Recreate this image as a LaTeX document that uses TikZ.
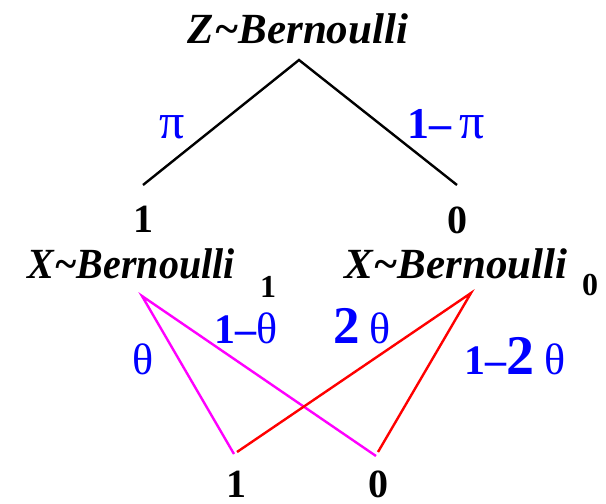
\documentclass[tikz,border=0pt]{standalone}
\usepackage{fontspec}
\setmainfont{Liberation Serif}
\definecolor{pmag}{RGB}{255,0,255}
\definecolor{pblue}{RGB}{0,0,255}
\newcommand{\gk}[1]{{\mdseries #1}}
\begin{document}
\begin{tikzpicture}[x=1pt,y=-1pt,
  dist/.style={font=\fontsize{43}{45}\selectfont\bfseries\itshape, inner sep=0pt, anchor=base},
  val/.style={font=\fontsize{40}{42}\selectfont\bfseries, inner sep=0pt, anchor=base},
  subval/.style={font=\fontsize{32}{34}\selectfont\bfseries, inner sep=0pt, anchor=base},
  prob/.style={text=pblue, font=\fontsize{42}{44}\selectfont\bfseries, inner sep=0pt, anchor=base},
  edge/.style={line width=2.4pt},
  medge/.style={line width=2.4pt, draw=pmag},
  redge/.style={line width=2.4pt, draw=red},
]
\useasboundingbox (0,0) rectangle (606,504);
% top level
\node[dist] (z) at (298,43) {Z\textasciitilde Bernoulli};
\coordinate (top) at (299,60);
\coordinate (l1) at (143,185);
\coordinate (r0) at (457,185);
\draw[edge] (l1) -- (top) -- (r0);
\node[prob] (pi) at (172,138) {\fontsize{50}{52}\selectfont\gk{π}};
\node[prob] (mpi) at (446,138) {\fontsize{44}{46}\selectfont 1–\,\fontsize{50}{52}\selectfont\gk{π}};
% middle level
\node[val] (v1) at (143,232) {1};
\node[val] (v0) at (457,233) {0};
\node[dist, xscale=0.93] (xl) at (131,278) {X\textasciitilde Bernoulli};
\node[subval] (s1) at (268,297) {1};
\node[dist] (xr) at (456,278) {X\textasciitilde Bernoulli};
\node[subval] (s0) at (590,295) {0};
% lower connectors
\coordinate (ml) at (142,296);
\coordinate (mr) at (471,293);
\coordinate (b1m) at (234,454);
\coordinate (b0m) at (376,456);
\coordinate (b1r) at (237,452);
\coordinate (b0r) at (378,452);
\draw[medge] (b1m) -- (ml) -- (b0m);
\draw[redge] (b1r) -- (mr) -- (b0r);
\node[prob] (th) at (143,374) {\fontsize{44}{46}\selectfont\gk{θ}};
\node[prob] (omth) at (246,343) {1–\fontsize{44}{46}\selectfont\gk{θ}};
\node[prob] (tth) at (362,343) {\fontsize{53}{55}\selectfont 2\,\fontsize{44}{46}\selectfont\gk{θ}};
\node[prob] (omtth) at (515,374) {1–\fontsize{56}{58}\selectfont 2\,\fontsize{44}{46}\selectfont\gk{θ}};
% bottom level
\node[val] (w1) at (236,497) {1};
\node[val] (w0) at (378,497) {0};
\end{tikzpicture}
\end{document}
